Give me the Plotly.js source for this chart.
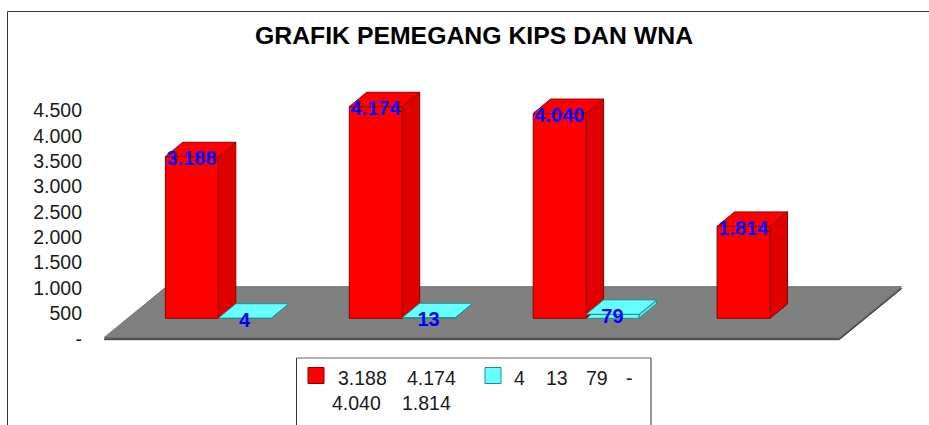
<!DOCTYPE html>
<html>
<head>
<meta charset="utf-8">
<script src="https://cdn.plot.ly/plotly-3.0.1.min.js"></script>
<style>html,body{margin:0;padding:0;background:#fff;overflow:hidden}</style>
</head>
<body>
<div id="chart" style="width:929px;height:425px"></div>
<script>
var categories = [1, 2, 3, 4];
var kipsValues = [3188, 4174, 4040, 1814];
var wnaValues = [4, 13, 79, 0];
var yTickValues = [0, 500, 1000, 1500, 2000, 2500, 3000, 3500, 4000, 4500];
var chartTitle = 'GRAFIK PEMEGANG KIPS DAN WNA';

var W = 929, H = 425;
var FONT = '"Liberation Sans", Arial, sans-serif';
var L = 88, R = 908, T = 60, B = 345;          // plot area in page pixels
var pxPerCat = 183.9, pxPerUnit = 0.0507;
var cat1Px = 218.4, zeroPx = 338.7;
var xRange = [1 - (cat1Px - L) / pxPerCat, 1 + (R - cat1Px) / pxPerCat];
var yRange = [-(B - zeroPx) / pxPerUnit, (zeroPx - T) / pxPerUnit];

function fmt(v) {
  if (!v) return '-';
  return String(v).replace(/\B(?=(\d{3})+$)/g, '.');
}
function px(x) { return (x - L) / (R - L); }
function py(y) { return 1 - (y - T) / (B - T); }

var barW = 53 / pxPerCat;
var lift = 20.4 / pxPerUnit;       // floor height of the bars' base above the axis zero
var dx = 17.4 / pxPerCat, dy = 14.4 / pxPerUnit;
var labelDown = 3.5 / pxPerUnit, labelLeft = 0.3 / pxPerCat;

function faces(values, left) {
  var top = {x: [], y: []}, side = {x: [], y: []};
  values.forEach(function (v, i) {
    if (!v) return;
    var xl = categories[i] + left, xr = xl + barW, b = lift, t = lift + v;
    top.x.push(xl, xr, xr + dx, xl + dx, xl, null);
    top.y.push(t, t, t + dy, t + dy, t, null);
    side.x.push(xr, xr + dx, xr + dx, xr, xr, null);
    side.y.push(b, b + dy, t + dy, t, b, null);
  });
  return {top: top, side: side};
}
function poly(f, fill, line) {
  return {type: 'scatter', mode: 'lines', x: f.x, y: f.y, fill: 'toself', fillcolor: fill,
          line: {color: line, width: 1}, hoverinfo: 'skip', showlegend: false};
}
var red = faces(kipsValues, -barW), cyan = faces(wnaValues, 0);

var shown = function (v) { return v ? v : null; };
var labelFont = {family: FONT, size: 20, color: '#0000ff', weight: 700};

var traces = [
  {type: 'bar', name: 'KIPS', x: categories, y: kipsValues, base: lift,
   marker: {color: '#ff0000', line: {color: '#8a0000', width: 1}}, showlegend: false},
  {type: 'bar', name: 'WNA', x: categories, y: wnaValues.map(shown), base: lift,
   marker: {color: '#66ffff', line: {color: '#2a8a8a', width: 1}}, showlegend: false},
  poly(red.top, '#ff0000', '#8a0000'),
  poly(red.side, '#e00000', '#8a0000'),
  poly(cyan.side, '#55dddd', '#2a8a8a'),
  poly(cyan.top, '#66ffff', '#2a8a8a'),
  {type: 'scatter', mode: 'text', hoverinfo: 'skip', showlegend: false,
   x: categories.map(function (c) { return c - barW / 2 - labelLeft; }),
   y: kipsValues.map(function (v) { return lift + v - labelDown; }),
   text: kipsValues.map(fmt), textposition: 'middle center', textfont: labelFont, cliponaxis: false},
  {type: 'scatter', mode: 'text', hoverinfo: 'skip', showlegend: false,
   x: categories.map(function (c) { return c + barW / 2 - labelLeft; }),
   y: wnaValues.map(function (v) { return v ? lift + v - labelDown : null; }),
   text: wnaValues.map(fmt), textposition: 'middle center', textfont: labelFont, cliponaxis: false}
];

// floor of the 3D scene, spanning the category axis
var fx0 = 1 - (cat1Px - 104) / pxPerCat, fx1 = 1 + (839.3 - cat1Px) / pxPerCat;
var fdx = 62.4 / pxPerCat, fBack = 51 / pxPerUnit, fThick = 2 / pxPerUnit, fBase = 1 / pxPerUnit;
function floorPath(yo) {
  return 'M' + fx0 + ',' + (yo) + ' L' + fx1 + ',' + (yo) +
         ' L' + (fx1 + fdx) + ',' + (yo + fBack) + ' L' + (fx0 + fdx) + ',' + (yo + fBack) + ' Z';
}

function lineShape(x0, y0, x1, y1, color) {
  return {type: 'line', xref: 'paper', yref: 'paper', x0: px(x0), y0: py(y0), x1: px(x1), y1: py(y1),
          line: {color: color, width: 1}, layer: 'above'};
}
function swatch(x, color, edge) {
  return {type: 'rect', xref: 'paper', yref: 'paper', x0: px(x), x1: px(x + 16), y0: py(367.5), y1: py(383.5),
          fillcolor: color, line: {color: edge, width: 1}, layer: 'above'};
}

var shapes = [
  lineShape(7.5, 11.5, 929, 11.5, '#333333'),
  lineShape(7.5, 11.5, 7.5, 425, '#333333'),
  {type: 'path', xref: 'x', yref: 'y', layer: 'below', path: floorPath(fBase - fThick),
   fillcolor: '#555555', line: {color: '#404040', width: 1}},
  {type: 'path', xref: 'x', yref: 'y', layer: 'below', path: floorPath(fBase),
   fillcolor: '#808080', line: {color: '#707070', width: 1}},
  lineShape(296.5, 358, 651, 358, '#666666'),
  lineShape(296.5, 358, 296.5, 425, '#333333'),
  lineShape(651, 358, 651, 425, '#333333'),
  swatch(308, '#ff0000', '#8a0000'),
  swatch(485, '#66ffff', '#2a8a8a')
];

function legendText(v, x, y) {
  return {xref: 'paper', yref: 'paper', x: px(x - 2), y: py(y), xanchor: 'left', yanchor: 'middle',
          text: fmt(v), showarrow: false,
          font: {family: FONT, size: 19.5, color: '#1a1a1a'}};
}
var kipsLegendPos = [[338, 378], [406.7, 378], [331.7, 403], [401.7, 403]];
var wnaLegendPos = [[514, 378], [546, 378], [586, 378], [626, 378]];
var annotations = [];
kipsValues.forEach(function (v, i) { annotations.push(legendText(v, kipsLegendPos[i][0], kipsLegendPos[i][1])); });
wnaValues.forEach(function (v, i) { annotations.push(legendText(v, wnaLegendPos[i][0], wnaLegendPos[i][1])); });

var layout = {
  width: W, height: H,
  margin: {l: L, r: W - R, t: T, b: H - B, pad: 0},
  paper_bgcolor: '#ffffff', plot_bgcolor: 'rgba(0,0,0,0)',
  showlegend: false,
  barmode: 'group', bargap: 1 - 2 * barW, bargroupgap: 0,
  title: {text: '<b>' + chartTitle + '</b>', x: 474 / W, xanchor: 'center', xref: 'container',
          y: 1 - 35 / H, yanchor: 'middle', yref: 'container',
          font: {family: FONT, size: 24.8, color: '#000000'}},
  xaxis: {type: 'linear', range: xRange, visible: false, fixedrange: true},
  yaxis: {type: 'linear', range: yRange, tickmode: 'array', tickvals: yTickValues,
          ticktext: yTickValues.map(fmt), showgrid: false, zeroline: false, showline: false,
          ticks: '', ticklabelstandoff: 5, fixedrange: true,
          tickfont: {family: FONT, size: 19.5, color: '#1a1a1a'}},
  shapes: shapes,
  annotations: annotations
};
Plotly.newPlot('chart', traces, layout, {displayModeBar: false, staticPlot: true});
</script>
</body>
</html>
